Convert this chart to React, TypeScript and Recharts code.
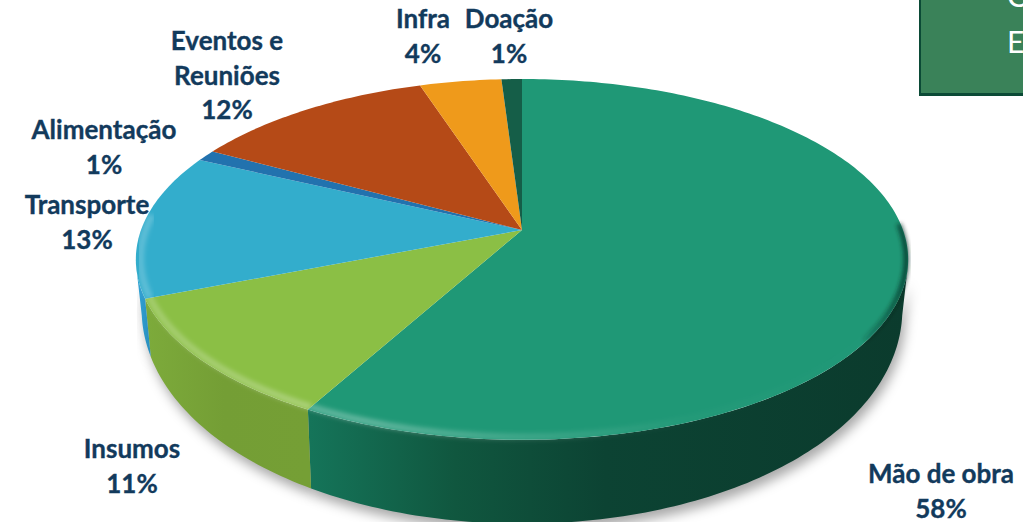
import React from "react";
import { PieChart, Pie } from "recharts";

const categories = ["Mão de obra", "Insumos", "Transporte", "Alimentação", "Eventos e Reuniões", "Infra", "Doação"];
const shares = [58, 11, 13, 1, 12, 4, 1];
const sliceColors = ["#1F9876", "#8BBF45", "#33ADCC", "#2272AE", "#B54A17", "#EF9A1B", "#155E48"];
const labelLines = [["Mão de obra"], ["Insumos"], ["Transporte"], ["Alimentação"], ["Eventos e", "Reuniões"], ["Infra"], ["Doação"]];

// layout only (label centre x, first baseline y)
const labelAnchors = [
  [941, 483], [132, 458], [87, 214], [104, 139], [227, 50], [423, 28], [509, 28],
];
const LINE_H = 34.5;
const TEXT = "#123A5C";
const FONT = "Lato, Carlito, sans-serif";

const chartData = categories.map((name, i) => ({ name, value: shares[i], fill: sliceColors[i], idx: i }));

// perspective projection of the pie disc
const CX = 522, CY = 230;
const PA = 381, PB = 175.6, PK = -0.163;
const FRONT_MIN = 101, FRONT_MAX = 259;

function proj(theta: number, r = 1) {
  const t = (theta * Math.PI) / 180;
  const u = Math.sin(t) * r, v = -Math.cos(t) * r;
  const w = 1 + PK * v;
  return { x: CX + (PA * u) / w, y: CY + (PB * v) / w, v };
}
function low(theta: number) {
  const p = proj(theta);
  return { x: CX + (p.x - CX) * 0.985, y: p.y + 43 + 41 * p.v };
}
function samples(a: number, b: number) {
  const out: number[] = [];
  const n = Math.max(1, Math.ceil(b - a));
  for (let i = 0; i <= n; i++) out.push(a + ((b - a) * i) / n);
  return out;
}
const toD = (pts: { x: number; y: number }[]) =>
  pts.map((p, i) => `${i ? "L" : "M"}${p.x.toFixed(2)} ${p.y.toFixed(2)}`).join(" ");

function span(props: any) {
  return [90 - props.startAngle, 90 - props.endAngle];
}
function wallPath(a: number, b: number) {
  const s = Math.max(a, FRONT_MIN), e = Math.min(b, FRONT_MAX);
  if (e <= s) return null;
  const ang = samples(s, e);
  return toD([...ang.map((t) => proj(t)), ...ang.slice().reverse().map(low)]) + " Z";
}

const ShadowSlice = (props: any) => {
  const [a, b] = span(props);
  const d = wallPath(a, b);
  if (!d) return null;
  return <path d={d} fill="#000" fillOpacity={0.34} transform="translate(3 7)" filter="url(#soft)" />;
};
const WallSlice = (props: any) => {
  const [a, b] = span(props);
  const d = wallPath(a, b);
  if (!d) return null;
  return <path d={d} fill={`url(#wall${props.payload.idx})`} />;
};
const TopSlice = (props: any) => {
  const [a, b] = span(props);
  const arc = samples(a, b).map((t) => proj(t));
  const d = `M${CX} ${CY} ` + toD(arc).replace(/^M/, "L") + " Z";
  const rim = (from: number, to: number, r = 0.988) => {
    const s = Math.max(a, from), e = Math.min(b, to);
    return e > s ? toD(samples(s, e).map((t) => proj(t, r))) : null;
  };
  const light = rim(105, 275);
  const dark = rim(88, 125, 0.995);
  return (
    <g>
      <path d={d} fill={props.fill} />
      {light && <path d={light} fill="none" stroke="url(#rimLight)" strokeWidth={7} filter="url(#rimBlur)" />}
      {dark && <path d={dark} fill="none" stroke="url(#rimDark)" strokeWidth={5} filter="url(#rimBlur)" />}
    </g>
  );
};

const renderLabel = (props: any) => {
  const i = props.index;
  const [x, y] = labelAnchors[i];
  const lines = [...labelLines[i], `${shares[i]}%`];
  return (
    <text key={i} x={x} y={y} textAnchor="middle" fontFamily={FONT} fontWeight={700} fontSize={26} fill={TEXT} stroke={TEXT} strokeWidth={0.35}>
      {lines.map((l, k) => (
        <tspan key={k} x={x} y={y + k * LINE_H}>{l}</tspan>
      ))}
    </text>
  );
};

const common = {
  data: chartData,
  dataKey: "value",
  nameKey: "name",
  cx: CX,
  cy: CY,
  outerRadius: 150,
  startAngle: 90,
  endAngle: -270,
  stroke: "none",
  isAnimationActive: false,
};

export default function App() {
  return (
    <div style={{ position: "absolute", left: 0, top: 0, width: 1023, height: 522, overflow: "hidden", background: "#fff" }}>
      <PieChart width={1023} height={522} margin={{ top: 0, right: 0, bottom: 0, left: 0 }}>
        <defs>
          <filter id="soft" x="-10%" y="-20%" width="120%" height="150%"><feGaussianBlur stdDeviation="6" /></filter>
          <filter id="rimBlur" x="-10%" y="-20%" width="120%" height="140%"><feGaussianBlur stdDeviation="2.2" /></filter>
          <linearGradient id="rimLight" gradientUnits="userSpaceOnUse" x1="137" y1="0" x2="900" y2="0">
            <stop offset="0" stopColor="#fff" stopOpacity={0.2} />
            <stop offset="0.3" stopColor="#fff" stopOpacity={0.28} />
            <stop offset="0.5" stopColor="#fff" stopOpacity={0.14} />
            <stop offset="0.72" stopColor="#fff" stopOpacity={0.02} />
            <stop offset="1" stopColor="#fff" stopOpacity={0} />
          </linearGradient>
          <linearGradient id="rimDark" gradientUnits="userSpaceOnUse" x1="850" y1="0" x2="908" y2="0">
            <stop offset="0" stopColor="#062a20" stopOpacity={0} />
            <stop offset="1" stopColor="#062a20" stopOpacity={0.8} />
          </linearGradient>
          <linearGradient id="wall0" gradientUnits="userSpaceOnUse" x1="305" y1="0" x2="905" y2="0">
            <stop offset="0" stopColor="#15755A" />
            <stop offset="0.25" stopColor="#10573F" />
            <stop offset="0.5" stopColor="#0C4333" />
            <stop offset="1" stopColor="#0B3B2D" />
          </linearGradient>
          <linearGradient id="wall1" gradientUnits="userSpaceOnUse" x1="143" y1="0" x2="305" y2="0">
            <stop offset="0" stopColor="#7DAB3B" />
            <stop offset="0.5" stopColor="#749E35" />
            <stop offset="1" stopColor="#759F35" />
          </linearGradient>
          {[2, 3, 4, 5, 6].map((i) => (
            <linearGradient key={i} id={`wall${i}`} gradientUnits="userSpaceOnUse" x1="137" y1="0" x2="150" y2="0">
              <stop offset="0" stopColor="#2FA2D6" />
              <stop offset="1" stopColor="#2A8FBE" />
            </linearGradient>
          ))}
        </defs>
        <Pie {...common} shape={ShadowSlice} />
        <Pie {...common} shape={WallSlice} />
        <Pie {...common} shape={TopSlice} label={renderLabel} labelLine={false} />
      </PieChart>
      <div
        style={{
          position: "absolute",
          left: 919,
          top: -4,
          width: 110,
          height: 100,
          boxSizing: "border-box",
          background: "#3A8259",
          borderLeft: "2px solid #0B4A36",
          borderBottom: "3px solid #0B4A36",
          color: "#fff",
          fontFamily: FONT,
          fontSize: 30,
          lineHeight: "46px",
          whiteSpace: "nowrap",
          paddingLeft: 86,
          paddingTop: 0,
        }}
      >
        <div style={{ marginTop: -24 }}>C</div>
        <div>E</div>
      </div>
    </div>
  );
}
